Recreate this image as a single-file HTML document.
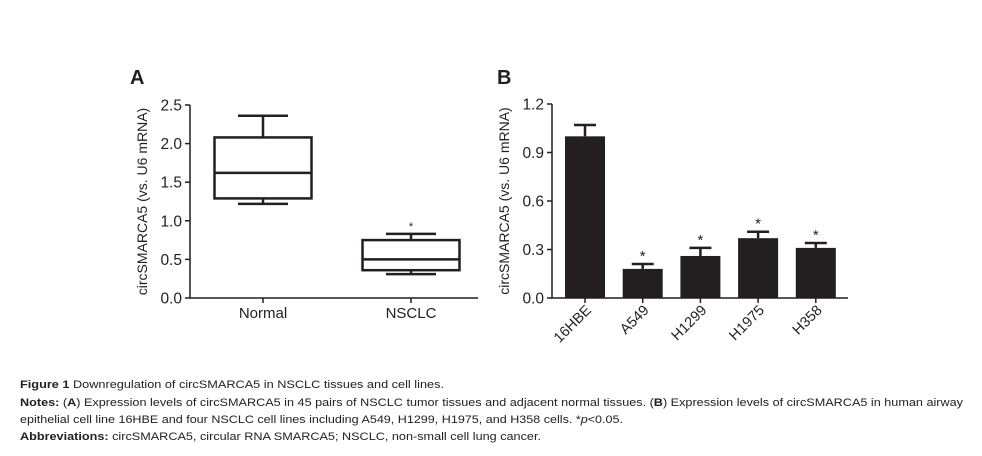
<!DOCTYPE html>
<html><head><meta charset="utf-8"><style>
html,body{margin:0;padding:0;background:#fff;}
svg{display:block;font-family:"Liberation Sans",Arial,sans-serif;}
</style></head><body>
<svg id="fig" width="982" height="456" viewBox="0 0 982 456">
<g id="pa"></g>
<g id="pb"></g>
<g font-size="11" fill="#222">
<text x="20" y="388" textLength="424" lengthAdjust="spacingAndGlyphs"><tspan font-weight="bold">Figure 1</tspan> Downregulation of circSMARCA5 in NSCLC tissues and cell lines.</text>
<text x="20" y="406" textLength="943" lengthAdjust="spacingAndGlyphs"><tspan font-weight="bold">Notes:</tspan> (<tspan font-weight="bold">A</tspan>) Expression levels of circSMARCA5 in 45 pairs of NSCLC tumor tissues and adjacent normal tissues. (<tspan font-weight="bold">B</tspan>) Expression levels of circSMARCA5 in human airway</text>
<text x="20" y="423" textLength="603" lengthAdjust="spacingAndGlyphs">epithelial cell line 16HBE and four NSCLC cell lines including A549, H1299, H1975, and H358 cells. *<tspan font-style="italic">p</tspan>&lt;0.05.</text>
<text x="20" y="440" textLength="521" lengthAdjust="spacingAndGlyphs"><tspan font-weight="bold">Abbreviations:</tspan> circSMARCA5, circular RNA SMARCA5; NSCLC, non-small cell lung cancer.</text>
</g>
</svg>
<script>
// Panel A data
const boxCategories = ['Normal', 'NSCLC'];
const boxMin = [1.22, 0.31];
const boxQ1 = [1.29, 0.36];
const boxMedian = [1.62, 0.50];
const boxQ3 = [2.08, 0.75];
const boxMax = [2.36, 0.83];
const boxSig = ['', '*'];
const aTicks = [0, 0.5, 1.0, 1.5, 2.0, 2.5];
// Panel B data
const barCategories = ['16HBE', 'A549', 'H1299', 'H1975', 'H358'];
const barValues = [1.00, 0.18, 0.26, 0.37, 0.31];
const barErrors = [0.07, 0.03, 0.05, 0.04, 0.03];
const barSig = ['', '*', '*', '*', '*'];
const bTicks = [0, 0.3, 0.6, 0.9, 1.2];

const NS = 'http://www.w3.org/2000/svg';
function mk(parent, tag, attrs, text) {
  const e = document.createElementNS(NS, tag);
  for (const k in attrs) e.setAttribute(k, attrs[k]);
  if (text !== undefined) e.textContent = text;
  parent.appendChild(e);
  return e;
}
const C = '#231f20';

// ---- Panel A ----
(function(){
  const g = document.getElementById('pa');
  const x0 = 190, x1 = 478, yB = 298, yT = 105, maxV = 2.5;
  const ys = v => yB - (v / maxV) * (yB - yT);
  const xs = i => 263 + i * 148;
  let t = mk(g, 'text', {x: 130, y: 84, 'font-size': 20, 'font-weight': 'bold', fill: C}, 'A');
  
  
  let l = mk(g, 'path', {d: `M${x0},${yT} V${yB} H${x1}`, stroke: C, 'stroke-width': 1.5, fill: 'none'});
  
  
  aTicks.forEach(v => {
    mk(g, 'line', {x1: x0 - 5, x2: x0, y1: ys(v), y2: ys(v), stroke: C, 'stroke-width': 1.5});
    const tt = mk(g, 'text', {x: x0 - 8, y: ys(v) + 5.5, 'font-size': 15.5, 'text-anchor': 'end', fill: C}, v.toFixed(1));
    
    
  });
  const yt = mk(g, 'text', {transform: `translate(147,${(yB + yT) / 2}) rotate(-90)`, 'font-size': 14, 'text-anchor': 'middle', fill: C}, 'circSMARCA5 (vs. U6 mRNA)');
  
  
  boxCategories.forEach((c, i) => {
    const cx = xs(i), w = 97;
    mk(g, 'line', {x1: cx, x2: cx, y1: yB, y2: yB + 5, stroke: C, 'stroke-width': 1.5});
    const lb = mk(g, 'text', {x: cx, y: yB + 20, 'font-size': 15, 'text-anchor': 'middle', fill: C}, c);
    
    
    const bg = mk(g, 'g', {stroke: C, 'stroke-width': 2.5, fill: 'none'});
    
    
    mk(bg, 'rect', {x: cx - w / 2, y: ys(boxQ3[i]), width: w, height: ys(boxQ1[i]) - ys(boxQ3[i])});
    mk(bg, 'line', {x1: cx - w / 2, x2: cx + w / 2, y1: ys(boxMedian[i]), y2: ys(boxMedian[i])});
    mk(bg, 'line', {x1: cx, x2: cx, y1: ys(boxQ3[i]), y2: ys(boxMax[i])});
    mk(bg, 'line', {x1: cx, x2: cx, y1: ys(boxQ1[i]), y2: ys(boxMin[i])});
    mk(bg, 'line', {x1: cx - 25, x2: cx + 25, y1: ys(boxMax[i]), y2: ys(boxMax[i])});
    mk(bg, 'line', {x1: cx - 25, x2: cx + 25, y1: ys(boxMin[i]), y2: ys(boxMin[i])});
    if (boxSig[i]) {
      const s = mk(g, 'text', {x: cx, y: ys(boxMax[i]) - 4, 'font-size': 11, 'text-anchor': 'middle', fill: C}, boxSig[i]);
      
      
    }
  });
})();

// ---- Panel B ----
(function(){
  const g = document.getElementById('pb');
  const x0 = 552, x1 = 848, yB = 298, yT = 104, maxV = 1.2;
  const ys = v => yB - (v / maxV) * (yB - yT);
  const xs = i => 585 + i * 57.7;
  let t = mk(g, 'text', {x: 497, y: 84, 'font-size': 20, 'font-weight': 'bold', fill: C}, 'B');
  
  
  let l = mk(g, 'path', {d: `M${x0},${yT} V${yB} H${x1}`, stroke: C, 'stroke-width': 1.5, fill: 'none'});
  
  
  bTicks.forEach(v => {
    mk(g, 'line', {x1: x0 - 5, x2: x0, y1: ys(v), y2: ys(v), stroke: C, 'stroke-width': 1.5});
    const tt = mk(g, 'text', {x: x0 - 8, y: ys(v) + 5.5, 'font-size': 15.5, 'text-anchor': 'end', fill: C}, v.toFixed(1));
    
    
  });
  const yt = mk(g, 'text', {transform: `translate(509,${(yB + yT) / 2}) rotate(-90)`, 'font-size': 14, 'text-anchor': 'middle', fill: C}, 'circSMARCA5 (vs. U6 mRNA)');
  
  
  barCategories.forEach((c, i) => {
    const cx = xs(i), w = 40;
    const top = ys(barValues[i]), et = ys(barValues[i] + barErrors[i]);
    const e1 = mk(g, 'line', {x1: cx, x2: cx, y1: top, y2: et, stroke: C, 'stroke-width': 2.5});
    
    
    mk(g, 'line', {x1: cx - 11, x2: cx + 11, y1: et, y2: et, stroke: C, 'stroke-width': 2.5});
    const r = mk(g, 'rect', {x: cx - w / 2, y: top, width: w, height: yB - top, fill: C});
    
    
    mk(g, 'line', {x1: cx, x2: cx, y1: yB, y2: yB + 5, stroke: C, 'stroke-width': 1.5});
    const lb = mk(g, 'text', {transform: `translate(${cx + 7},${yB + 13}) rotate(-45)`, 'font-size': 14.5, 'text-anchor': 'end', fill: C}, c);
    
    
    if (barSig[i]) {
      const s = mk(g, 'text', {x: cx, y: et - 3, 'font-size': 15, 'text-anchor': 'middle', fill: C}, barSig[i]);
      
      
    }
  });
})();
</script>
</body></html>
